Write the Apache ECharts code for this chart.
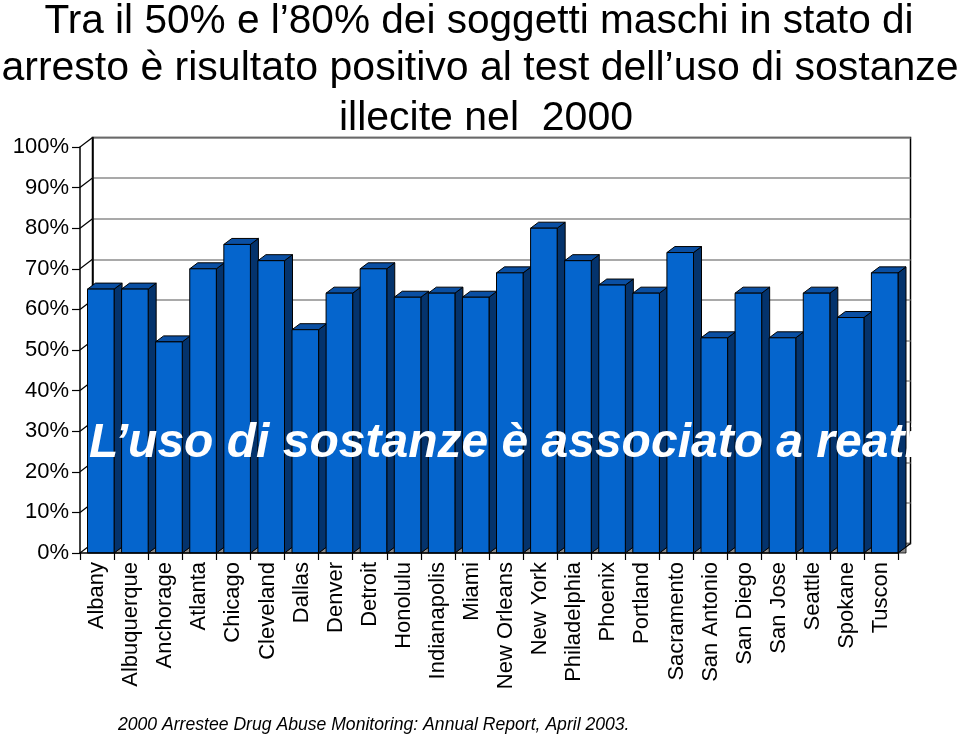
<!DOCTYPE html>
<html>
<head>
<meta charset="utf-8">
<script src="https://cdn.jsdelivr.net/npm/echarts@6/dist/echarts.min.js"></script>
<style>
html,body{margin:0;padding:0;background:#fff;}
#chart{width:960px;height:735px;}
</style>
</head>
<body>
<div id="chart"></div>
<script>
const categories = ['Albany','Albuquerque','Anchorage','Atlanta','Chicago','Cleveland','Dallas','Denver','Detroit','Honolulu','Indianapolis','Miami','New Orleans','New York','Philadelphia','Phoenix','Portland','Sacramento','San Antonio','San Diego','San Jose','Seattle','Spokane','Tuscon'];
const values = [65, 65, 52, 70, 76, 72, 55, 64, 70, 63, 64, 63, 69, 80, 72, 66, 64, 74, 53, 64, 53, 64, 58, 69];
const tickValues = [0, 10, 20, 30, 40, 50, 60, 70, 80, 90, 100];
const titleLines = ['Tra il 50% e l\u201980% dei soggetti maschi in stato di', 'arresto \u00e8 risultato positivo al test dell\u2019uso di sostanze', 'illecite nel  2000'];
const overlayText = 'L\u2019uso di sostanze \u00e8 associato a reati';
const sourceText = '2000 Arrestee Drug Abuse Monitoring: Annual Report, April 2003.';

const FONT = '"Liberation Sans", Arial, sans-serif';
const WALL_DX = 12.5, WALL_DY = 9.5;
const BAR_DX = 8, BAR_DY = 6;

const chart = echarts.init(document.getElementById('chart'), null, {renderer: 'canvas'});

const option = {
  backgroundColor: '#ffffff',
  animation: false,
  textStyle: {fontFamily: FONT},
  grid: [
    {left: 80, top: 147, width: 818, height: 406},
    {left: 80 + WALL_DX, top: 147 - WALL_DY, width: 818, height: 406, show: true, borderColor: '#000', borderWidth: 1.5, backgroundColor: '#fff', z: 0}
  ],
  xAxis: [
    {type: 'category', gridIndex: 0, data: categories, boundaryGap: true,
     axisLine: {show: true, lineStyle: {color: '#000', width: 1.5}},
     axisTick: {show: true, alignWithLabel: false, length: 7, lineStyle: {color: '#000', width: 1.2}},
     axisLabel: {rotate: 90, interval: 0, margin: 9, color: '#000', fontSize: 22, fontFamily: FONT},
     z: 5},
    {type: 'category', gridIndex: 1, data: categories, show: false}
  ],
  yAxis: [
    {type: 'value', gridIndex: 0, min: 0, max: 100, interval: 10,
     axisLine: {show: true, lineStyle: {color: '#000', width: 1.5}},
     axisTick: {show: true, length: 8, lineStyle: {color: '#000', width: 1.2}},
     axisLabel: {formatter: '{value}%', color: '#000', fontSize: 22, margin: 11, fontFamily: FONT},
     splitLine: {show: false}, z: 5},
    {type: 'value', gridIndex: 1, min: 0, max: 100, interval: 10,
     axisLine: {show: true, lineStyle: {color: '#000', width: 1.5}},
     axisTick: {show: false}, axisLabel: {show: false},
     splitLine: {show: true, lineStyle: {color: '#8c8c8c', width: 1.5}}}
  ],
  series: [
    {
      type: 'custom', xAxisIndex: 0, yAxisIndex: 0, z: 3, silent: true,
      data: tickValues.map(v => [0, v]),
      renderItem: function (params, api) {
        const p = api.coord([0, api.value(1)]);
        const bw = api.size([1, 0])[0];
        const x0 = p[0] - bw / 2;
        const children = [{
          type: 'line',
          shape: {x1: x0, y1: p[1], x2: x0 + WALL_DX, y2: p[1] - WALL_DY},
          style: {stroke: '#000', lineWidth: 1.2}
        }];
        if (params.dataIndex === 0) {
          const q = api.coord([categories.length - 1, 0]);
          const xe = q[0] + bw / 2;
          children.push({type: 'line', shape: {x1: xe, y1: q[1], x2: xe + WALL_DX, y2: q[1] - WALL_DY}, style: {stroke: '#000', lineWidth: 1.2}});
        }
        return {type: 'group', children: children};
      }
    },
    {
      type: 'custom', xAxisIndex: 0, yAxisIndex: 0, z: 4, silent: true,
      data: values.map((v, i) => [i, v]),
      renderItem: function (params, api) {
        const i = api.value(0), v = api.value(1);
        const base = api.coord([i, 0]);
        const top = api.coord([i, v]);
        const bw = api.size([1, 0])[0];
        const xr = base[0] + bw / 2;
        const xl = xr - bw + 7.5;
        const y0 = base[1], yt = top[1];
        const stroke = {stroke: '#000', lineWidth: 1};
        return {type: 'group', children: [
          {type: 'polygon', shape: {points: [[xr, y0], [xr + BAR_DX, y0 - BAR_DY], [xr + BAR_DX, y0]]}, style: {fill: '#8c8c8c', stroke: '#000', lineWidth: 0.8}},
          {type: 'polygon', shape: {points: [[xr, yt], [xr + BAR_DX, yt - BAR_DY], [xr + BAR_DX, y0 - BAR_DY], [xr, y0]]}, style: Object.assign({fill: '#04336c'}, stroke)},
          {type: 'polygon', shape: {points: [[xl, yt], [xr, yt], [xr + BAR_DX, yt - BAR_DY], [xl + BAR_DX, yt - BAR_DY]]}, style: Object.assign({fill: '#0a4fa3'}, stroke)},
          {type: 'rect', shape: {x: xl, y: yt, width: xr - xl, height: y0 - yt}, style: Object.assign({fill: '#0565cd'}, stroke)}
        ]};
      }
    }
  ],
  graphic: [
    {type: 'text', x: 479, y: 22, z: 100, style: {text: titleLines[0], font: '40.6px ' + FONT, fill: '#000', align: 'center', verticalAlign: 'middle'}},
    {type: 'text', x: 480, y: 69, z: 100, style: {text: titleLines[1], font: '41px ' + FONT, fill: '#000', align: 'center', verticalAlign: 'middle'}},
    {type: 'text', x: 486, y: 119, z: 100, style: {text: titleLines[2], font: '41px ' + FONT, fill: '#000', align: 'center', verticalAlign: 'middle'}},
    {type: 'text', x: 89, y: 444, z: 100, style: {text: overlayText, font: 'italic bold 48px ' + FONT, fill: '#fff', align: 'left', verticalAlign: 'middle'}},
    {type: 'text', x: 118, y: 725, z: 100, style: {text: sourceText, font: 'italic 17.6px ' + FONT, fill: '#000', align: 'left', verticalAlign: 'middle'}}
  ]
};
chart.setOption(option);
</script>
</body>
</html>
